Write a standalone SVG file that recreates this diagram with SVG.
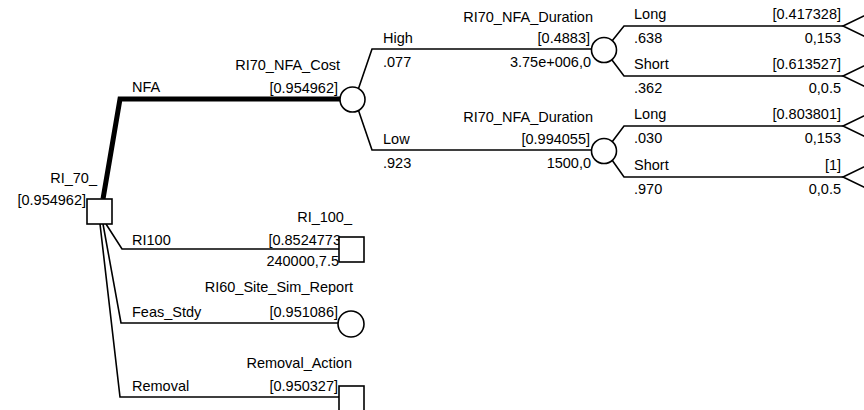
<svg xmlns="http://www.w3.org/2000/svg" width="864" height="410" viewBox="0 0 864 410">
<style>
text{font-family:"Liberation Sans",Arial,sans-serif;font-size:14.5px;fill:#000}
.r{text-anchor:end}
.ln{fill:none;stroke:#000;stroke-width:1.6;stroke-linejoin:miter}
.thick{fill:none;stroke:#000;stroke-width:5;stroke-linejoin:miter}
.nd{fill:#fff;stroke:#000;stroke-width:1.6}
</style>
<rect width="864" height="410" fill="#fff"/>
<g id="connectors">
<polyline class="thick" points="103,199 120,99 341,99"/>
<polyline class="ln" points="358,90 372,49 592,49"/>
<polyline class="ln" points="358,109 372,150 592,150"/>
<polyline class="ln" points="612,41 624,26 843,26"/>
<polyline class="ln" points="612,60 624,76 843,76"/>
<polyline class="ln" points="612,142 624,126 843,126"/>
<polyline class="ln" points="612,160 624,177 843,177"/>
<polyline class="ln" points="106,224 122,249 339,249"/>
<polyline class="ln" points="103,224 121,323 338,323"/>
<polyline class="ln" points="100,224 120,397 339,397"/>
</g>
<g id="root">
<text class="r" x="97" y="183">RI_70_</text>
<text class="r" x="86" y="205">[0.954962]</text>
<rect class="nd" x="87" y="199" width="25" height="25"/>
</g>
<g id="nfa_branch">
<text x="132" y="92">NFA</text>
</g>
<g id="nfa_cost">
<text class="r" x="340" y="70">RI70_NFA_Cost</text>
<text class="r" x="338" y="93">[0.954962]</text>
<circle class="nd" cx="352.5" cy="99.5" r="12.5"/>
</g>
<g id="high_branch">
<text x="383" y="43">High</text>
<text x="383" y="67">.077</text>
</g>
<g id="nfa_duration_high">
<text class="r" x="593" y="22">RI70_NFA_Duration</text>
<text class="r" x="590" y="43">[0.4883]</text>
<text class="r" x="591" y="67">3.75e+006,0</text>
<circle class="nd" cx="604" cy="50" r="12.5"/>
</g>
<g id="low_branch">
<text x="383" y="144">Low</text>
<text x="383" y="168">.923</text>
</g>
<g id="nfa_duration_low">
<text class="r" x="593" y="122">RI70_NFA_Duration</text>
<text class="r" x="590" y="144">[0.994055]</text>
<text class="r" x="591" y="168">1500,0</text>
<circle class="nd" cx="604" cy="151" r="12.5"/>
</g>
<g id="term_high_long">
<text x="634" y="19">Long</text>
<text x="634" y="43">.638</text>
<text class="r" x="841" y="19">[0.417328]</text>
<text class="r" x="841" y="43">0,153</text>
<path class="ln" d="M868,14 L843,26 L868,38"/>
</g>
<g id="term_high_short">
<text x="634" y="69">Short</text>
<text x="634" y="93">.362</text>
<text class="r" x="841" y="69">[0.613527]</text>
<text class="r" x="841" y="93">0,0.5</text>
<path class="ln" d="M868,64 L843,76 L868,88"/>
</g>
<g id="term_low_long">
<text x="634" y="119">Long</text>
<text x="634" y="143">.030</text>
<text class="r" x="841" y="119">[0.803801]</text>
<text class="r" x="841" y="143">0,153</text>
<path class="ln" d="M868,114 L843,126 L868,138"/>
</g>
<g id="term_low_short">
<text x="634" y="170">Short</text>
<text x="634" y="194">.970</text>
<text class="r" x="841" y="170">[1]</text>
<text class="r" x="841" y="194">0,0.5</text>
<path class="ln" d="M868,165 L843,177 L868,189"/>
</g>
<g id="ri100">
<text x="132" y="245">RI100</text>
<text class="r" x="352" y="222">RI_100_</text>
<text class="r" x="341" y="245">[0.8524773</text>
<text class="r" x="339" y="266">240000,7.5</text>
<rect class="nd" x="339" y="237" width="25" height="25"/>
</g>
<g id="feas_stdy">
<text x="132" y="317">Feas_Stdy</text>
<text class="r" x="353" y="292">RI60_Site_Sim_Report</text>
<text class="r" x="338" y="317">[0.951086]</text>
<circle class="nd" cx="351" cy="324" r="13"/>
</g>
<g id="removal">
<text x="132" y="391">Removal</text>
<text class="r" x="352" y="368">Removal_Action</text>
<text class="r" x="338" y="391">[0.950327]</text>
<rect class="nd" x="339" y="386" width="25" height="26"/>
</g>
</svg>
